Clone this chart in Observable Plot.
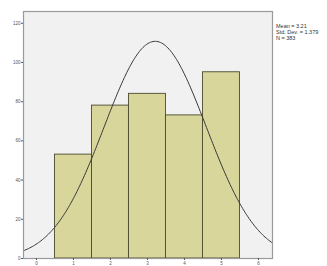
<!DOCTYPE html>
<html>
<head>
<meta charset="utf-8">
<script src="https://cdn.jsdelivr.net/npm/d3@7"></script>
<script src="https://cdn.jsdelivr.net/npm/@observablehq/plot@0.6"></script>
<style>
  html, body { margin: 0; padding: 0; background: #fff; }
  #wrap { position: relative; width: 327px; height: 266px; }
  #stats { position: absolute; left: 276px; top: 23px; font: 5.5px "Liberation Sans", Arial, sans-serif; line-height: 6.2px; color: #333; }
</style>
</head>
<body>
<div id="wrap">
  <div id="chart"></div>
  <div id="stats"></div>
</div>
<script>
const categories = [1, 2, 3, 4, 5];
const counts = [53, 78, 84, 73, 95];
const xTicks = [0, 1, 2, 3, 4, 5, 6];
const yTicks = [0, 20, 40, 60, 80, 100, 120];
const statLines = ["Mean = 3.21", "Std. Dev. = 1.379", "N = 383"];
const mean = 3.21, sd = 1.379, n = 383;

const bars = categories.map((c, i) => ({x1: c - 0.5, x2: c + 0.5, y: counts[i]}));
const xDomain = [-0.35, 6.38];
const curve = d3.range(0, 201).map(i => {
  const x = xDomain[0] + (xDomain[1] - xDomain[0]) * i / 200;
  const z = (x - mean) / sd;
  return {x, y: n / (sd * Math.sqrt(2 * Math.PI)) * Math.exp(-0.5 * z * z)};
});

const chart = Plot.plot({
  width: 327, height: 266,
  marginLeft: 23, marginRight: 55, marginTop: 11, marginBottom: 8,
  style: {background: "#fff", fontFamily: "Liberation Sans, Arial, sans-serif"},
  x: {domain: xDomain},
  y: {domain: [0, 126]},
  marks: [
    Plot.frame({fill: "#f1f1f1", stroke: "none"}),
    Plot.rectY(bars, {x1: "x1", x2: "x2", y: "y", fill: "#d9d69c", stroke: "#4b4a2e", strokeWidth: 0.9}),
    Plot.line(curve, {x: "x", y: "y", stroke: "#3a3a3a", strokeWidth: 1, curve: "basis"}),
    Plot.frame({stroke: "#9a9a9a", strokeWidth: 1.2}),
    Plot.axisX({ticks: xTicks, tickSize: 2, tickPadding: 1, fontSize: 4.5, label: null, tickFormat: d => d, stroke: "#555", color: "#555"}),
    Plot.axisY({ticks: yTicks, tickSize: 2, tickPadding: 1, fontSize: 4.5, label: null, stroke: "#555", color: "#555"})
  ]
});
document.getElementById("chart").appendChild(chart);
document.getElementById("stats").innerHTML = statLines.map(s => `<div>${s}</div>`).join("");
</script>
</body>
</html>
